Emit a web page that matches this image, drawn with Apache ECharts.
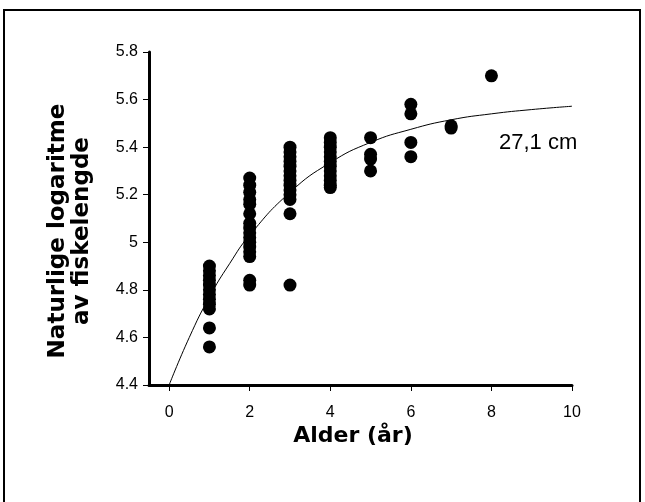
<!DOCTYPE html>
<html>
<head>
<meta charset="utf-8">
<script src="https://cdn.jsdelivr.net/npm/echarts@6/dist/echarts.min.js"></script>
<style>
  html, body { margin: 0; padding: 0; background: #fff; }
  #main { width: 645px; height: 502px; }
</style>
</head>
<body>
<div id="main"></div>
<script>
// målte verdier, ln(lengde) per alder
const age1 = [4.90, 4.88, 4.86, 4.84, 4.82, 4.80, 4.78, 4.76, 4.74, 4.72, 4.64, 4.56];
const age2 = [5.27, 5.24, 5.21, 5.18, 5.16, 5.12, 5.08, 5.06, 5.04, 5.02, 5.00, 4.98, 4.96, 4.94, 4.84, 4.82];
const age3 = [5.40, 5.38, 5.36, 5.34, 5.32, 5.30, 5.28, 5.26, 5.24, 5.22, 5.20, 5.18, 5.12, 4.82];
const age4 = [5.44, 5.42, 5.40, 5.38, 5.36, 5.34, 5.32, 5.30, 5.28, 5.26, 5.24, 5.23];
const age5 = [5.44, 5.37, 5.35, 5.30];
const age6 = [5.58, 5.54, 5.42, 5.36];
const age7 = [5.49, 5.48];
const age8 = [5.70];

// tilpasset vekstkurve (avlest)
const curveAge = [0, 0.5, 1, 1.5, 2, 3, 4, 5, 6, 7, 8, 9, 10];
const curveLn = [4.40, 4.60, 4.77, 4.91, 5.03, 5.21, 5.335, 5.42, 5.475, 5.515, 5.54, 5.558, 5.572];

const xTicks = [0, 2, 4, 6, 8, 10];

var columns = [age1, age2, age3, age4, age5, age6, age7, age8];
var points = [];
columns.forEach(function (col, i) {
  col.forEach(function (v) {
    points.push([i + 1, v]);
  });
});
var curve = curveAge.map(function (a, i) {
  return [a, curveLn[i]];
});

var myChart = echarts.init(document.getElementById('main'));
var option = {
  backgroundColor: '#fff',
  animation: false,
  grid: {
    left: 149,
    right: 73,
    top: 52,
    bottom: 117,
  },
  xAxis: {
    type: 'value',
    min: -0.5,
    max: 10,
    axisLine: {
      show: true,
      onZero: false,
      lineStyle: { color: '#000', width: 3 },
    },
    axisTick: {
      show: true,
      customValues: xTicks,
      length: 6,
      lineStyle: { color: '#000', width: 1 },
    },
    axisLabel: {
      customValues: xTicks,
      color: '#000',
      fontFamily: 'Liberation Sans',
      fontSize: 16,
      margin: 20,
    },
    splitLine: { show: false },
  },
  yAxis: {
    type: 'value',
    min: 4.4,
    max: 5.8,
    interval: 0.2,
    axisLine: {
      show: true,
      onZero: false,
      lineStyle: { color: '#000', width: 3 },
    },
    axisTick: {
      show: true,
      length: 6,
      lineStyle: { color: '#000', width: 1 },
    },
    axisLabel: {
      color: '#000',
      fontFamily: 'Liberation Sans',
      fontSize: 16,
      margin: 11,
      formatter: function (v) {
        return Math.abs(v - 5) < 1e-9 ? '5' : v.toFixed(1);
      },
    },
    splitLine: { show: false },
  },
  series: [
    {
      type: 'line',
      data: curve,
      smooth: true,
      showSymbol: false,
      lineStyle: { color: '#000', width: 1 },
      z: 3,
    },
    {
      type: 'scatter',
      data: points,
      symbol: 'circle',
      symbolSize: 13,
      itemStyle: { color: '#000', opacity: 1 },
      z: 2,
    },
  ],
  graphic: [
    {
      // ramme rundt figuren
      type: 'rect',
      shape: { x: 4, y: 10, width: 636, height: 520 },
      style: { fill: null, stroke: '#000', lineWidth: 2 },
      silent: true,
    },
    {
      type: 'text',
      x: 70,
      y: 231,
      rotation: Math.PI / 2,
      style: {
        text: 'Naturlige logaritme\nav fiskelengde',
        fontFamily: 'DejaVu Sans',
        fontWeight: 'bold',
        fontSize: 23,
        lineHeight: 24,
        fill: '#000',
        align: 'center',
        verticalAlign: 'middle',
      },
    },
    {
      type: 'text',
      x: 353,
      y: 436,
      style: {
        text: 'Alder (år)',
        fontFamily: 'DejaVu Sans',
        fontWeight: 'bold',
        fontSize: 22,
        fill: '#000',
        align: 'center',
        verticalAlign: 'middle',
      },
    },
    {
      type: 'text',
      x: 499,
      y: 143,
      style: {
        text: '27,1 cm',
        fontFamily: 'Liberation Sans',
        fontSize: 22,
        fill: '#000',
        align: 'left',
        verticalAlign: 'middle',
      },
    },
  ],
};
myChart.setOption(option);
</script>
</body>
</html>
